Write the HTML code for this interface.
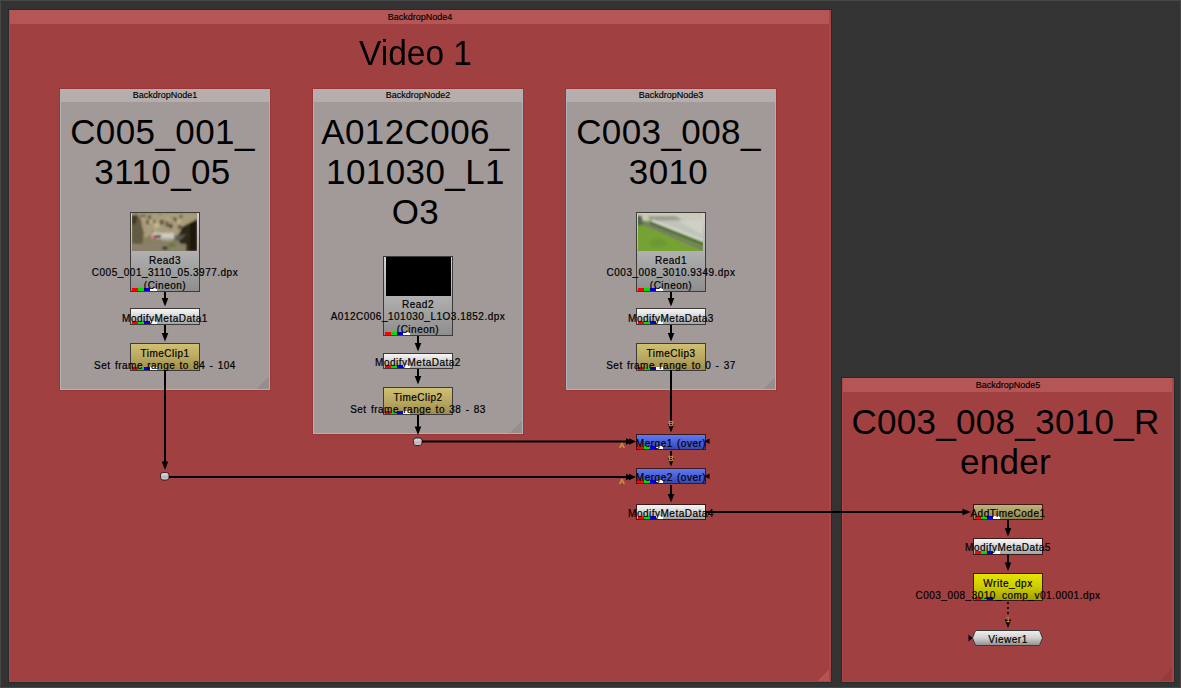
<!DOCTYPE html>
<html><head><meta charset="utf-8"><style>
html,body{margin:0;padding:0;}
body{width:1181px;height:688px;overflow:hidden;background:#333333;position:relative;font-family:"Liberation Sans",sans-serif;}
.frame{position:absolute;left:0;top:0;width:1181px;height:688px;box-sizing:border-box;border:1px solid #474747;}
.bd{position:absolute;box-sizing:border-box;}
.bd .tb{position:absolute;left:0;top:0;right:0;height:14px;font-size:9px;line-height:14px;text-align:center;color:#000;-webkit-text-stroke:0.15px #000;}
.bd .big{position:absolute;left:-5px;right:0;text-align:center;font-size:35px;line-height:40px;color:#000;}
.red{background:#a14041;box-shadow:0 0 0 1px #242c2c;}
.red .tb{background:#b55656;}
.red::after{content:'';position:absolute;left:0;top:0;right:0;bottom:0;box-shadow:inset 1px 0 0 #ad4646, inset -2px 0 0 #aa4545, inset 0 -1px 0 #aa4545;pointer-events:none;}
.gray{background:#a19a99;box-shadow:0 0 0 1px #9c3636, inset 0 0 0 1px #aab6b6;}
.gray .tb{height:13px;line-height:13px;background:#b5aeac;box-shadow:inset 1px 1px 0 #aab6b6, inset -1px 0 0 #aab6b6;}
svg{position:absolute;left:0;top:0;}
.cn{position:absolute;right:1px;bottom:1px;width:13px;height:13px;}
.bars3{position:absolute;left:1px;bottom:0;height:3px;width:18px;background:linear-gradient(90deg,#f00 0 6px,#0d0 6px 12px,#00e 12px 18px);}
.nd{position:absolute;box-sizing:border-box;border:1px solid rgba(0,0,0,0.62);background-clip:padding-box !important;}
.bars{position:absolute;left:1px;bottom:0;height:3px;width:25px;background:linear-gradient(90deg,#f00 0 6px,#0d0 6px 12px,#00e 12px 18px,#fff 18px 25px);}
.lbl{position:absolute;width:240px;text-align:center;font-size:10px;letter-spacing:0.5px;word-spacing:1px;line-height:12.3px;color:#000;white-space:nowrap;-webkit-text-stroke:0.2px #000;}
</style></head><body>
<div class="frame"></div>
<div class="bd red" style="left:9px;top:10px;width:822px;height:672px;"><div class="tb">BackdropNode4</div><div class="big" style="top:22.5px;left:-9px;font-size:33.5px;transform:scaleY(1.045);transform-origin:50% 30%;">Video 1</div><div class="cn" style="background:linear-gradient(135deg,rgba(0,0,0,0) 50%,#b85252 50%);"></div></div>
<div class="bd red" style="left:842px;top:378px;width:332px;height:304px;"><div class="tb">BackdropNode5</div><div class="big" style="top:24px;letter-spacing:0.3px;">C003_008_3010_R<br>ender</div><div class="cn" style="background:linear-gradient(135deg,rgba(0,0,0,0) 50%,#963a3a 50%);"></div></div>
<div class="bd gray" style="left:60px;top:89px;width:210px;height:301px;"><div class="tb">BackdropNode1</div><div class="big" style="top:23px;letter-spacing:0.4px;">C005_001_<br>3110_05</div><div class="cn" style="right:1px;bottom:1px;width:12px;height:12px;background:linear-gradient(135deg,rgba(0,0,0,0) 50%,#958e8d 50%);"></div></div>
<div class="bd gray" style="left:313px;top:89px;width:210px;height:345px;"><div class="tb">BackdropNode2</div><div class="big" style="top:23px;letter-spacing:0.4px;">A012C006_<br>101030_L1<br>O3</div><div class="cn" style="right:1px;bottom:1px;width:12px;height:12px;background:linear-gradient(135deg,rgba(0,0,0,0) 50%,#958e8d 50%);"></div></div>
<div class="bd gray" style="left:566px;top:89px;width:210px;height:301px;"><div class="tb">BackdropNode3</div><div class="big" style="top:23px;letter-spacing:0.4px;">C003_008_<br>3010</div><div class="cn" style="right:1px;bottom:1px;width:12px;height:12px;background:linear-gradient(135deg,rgba(0,0,0,0) 50%,#958e8d 50%);"></div></div>
<svg width="1181" height="688"><line x1="165" y1="292" x2="165" y2="300" stroke="#000" stroke-width="2"/><path d="M161.7 298.0 L168.3 298.0 L165 306.5 Z" fill="#000"/><line x1="165" y1="325" x2="165" y2="335" stroke="#000" stroke-width="2"/><path d="M161.7 333.0 L168.3 333.0 L165 341.5 Z" fill="#000"/><line x1="165" y1="370" x2="165" y2="462" stroke="#000" stroke-width="2"/><path d="M161.7 461.5 L168.3 461.5 L165 470 Z" fill="#000"/><line x1="418" y1="336" x2="418" y2="344" stroke="#000" stroke-width="2"/><path d="M414.7 343.0 L421.3 343.0 L418 351.5 Z" fill="#000"/><line x1="418" y1="369" x2="418" y2="379" stroke="#000" stroke-width="2"/><path d="M414.7 376.0 L421.3 376.0 L418 384.5 Z" fill="#000"/><line x1="418" y1="415" x2="418" y2="428" stroke="#000" stroke-width="2"/><path d="M414.7 426.5 L421.3 426.5 L418 435 Z" fill="#000"/><line x1="671" y1="292" x2="671" y2="300" stroke="#000" stroke-width="2"/><path d="M667.7 298.0 L674.3 298.0 L671 306.5 Z" fill="#000"/><line x1="671" y1="325" x2="671" y2="335" stroke="#000" stroke-width="2"/><path d="M667.7 333.0 L674.3 333.0 L671 341.5 Z" fill="#000"/><line x1="671" y1="370" x2="671" y2="428" stroke="#000" stroke-width="2"/><path d="M667.7 424.0 L674.3 424.0 L671 432.5 Z" fill="#000"/><line x1="671" y1="451" x2="671" y2="460" stroke="#000" stroke-width="2"/><path d="M667.7 458.0 L674.3 458.0 L671 466.5 Z" fill="#000"/><line x1="671" y1="485" x2="671" y2="495" stroke="#000" stroke-width="2"/><path d="M667.7 494.0 L674.3 494.0 L671 502.5 Z" fill="#000"/><line x1="418" y1="441.5" x2="626" y2="441.5" stroke="#000" stroke-width="2"/><path d="M626 438.2 L626 444.8 L633 441.5 Z" fill="#000"/><path d="M629 438.2 L629 444.8 L636 441.5 Z" fill="#000"/><line x1="165" y1="477" x2="626" y2="477" stroke="#000" stroke-width="2"/><path d="M626 473.7 L626 480.3 L633 477 Z" fill="#000"/><path d="M629 473.7 L629 480.3 L636 477 Z" fill="#000"/><line x1="706" y1="512" x2="965" y2="512" stroke="#000" stroke-width="2"/><path d="M962.5 508.7 L962.5 515.3 L971 512 Z" fill="#000"/><line x1="1008" y1="520" x2="1008" y2="530" stroke="#000" stroke-width="2"/><path d="M1004.7 528.0 L1011.3 528.0 L1008 536.5 Z" fill="#000"/><line x1="1008" y1="555" x2="1008" y2="563" stroke="#000" stroke-width="2"/><path d="M1004.7 562.5 L1011.3 562.5 L1008 571 Z" fill="#000"/><line x1="1008" y1="602" x2="1008" y2="620" stroke="#000" stroke-width="1.6" stroke-dasharray="2 3"/><path d="M1004.7 619.5 L1011.3 619.5 L1008 628 Z" fill="#000"/><path d="M968.5 634.5 L968.5 641.5 L972.5 638 Z" fill="#000"/><path d="M709.5 438.5 L709.5 444 L704.5 441.3 Z" fill="#000"/><path d="M709.5 473.5 L709.5 479 L704.5 476.3 Z" fill="#000"/><defs><linearGradient id="dg" x1="0" y1="0" x2="0" y2="1"><stop offset="0" stop-color="#d4dcdc"/><stop offset="0.45" stop-color="#c4c8c8"/><stop offset="0.55" stop-color="#b4b4b4"/><stop offset="1" stop-color="#c8d0d0"/></linearGradient></defs><rect x="160.5" y="472.5" width="8.5" height="7.5" rx="2.6" fill="url(#dg)" stroke="rgba(20,0,0,0.75)" stroke-width="1"/><rect x="413.5" y="438" width="8.5" height="7.5" rx="2.6" fill="url(#dg)" stroke="rgba(20,0,0,0.75)" stroke-width="1"/><text x="671" y="426" font-family="Liberation Sans" font-size="8" fill="#f0c070" stroke="#c07838" stroke-width="0.3" text-anchor="middle">B</text><text x="671" y="461" font-family="Liberation Sans" font-size="8" fill="#f0c070" stroke="#c07838" stroke-width="0.3" text-anchor="middle">B</text><text x="622" y="448" font-family="Liberation Sans" font-size="8" fill="#f0c070" stroke="#c07838" stroke-width="0.3" text-anchor="middle">A</text><text x="622" y="484" font-family="Liberation Sans" font-size="8" fill="#f0c070" stroke="#c07838" stroke-width="0.3" text-anchor="middle">A</text><text x="1008" y="621.5" font-family="Liberation Sans" font-size="8" fill="#f0c070" stroke="#c07838" stroke-width="0.3" text-anchor="middle">1</text></svg>
<div class="nd" style="left:130px;top:212px;width:70px;height:80px;background:linear-gradient(#d2d2d2,#8e8e8e);"><svg style="position:absolute;left:1px;top:0;" width="65" height="38" viewBox="0 0 65 38"><defs><filter id="bl1" x="-10%" y="-10%" width="120%" height="120%"><feGaussianBlur stdDeviation="0.85"/></filter></defs><rect width="65" height="38" fill="#8a7e60"/><g filter="url(#bl1)"><polygon points="0,0 65,0 65,10 52,16 44,22 36,24 20,22 8,26 0,24" fill="#a89c7a"/><ellipse cx="17.5" cy="4.2" rx="1.7" ry="2.2" fill="#5e5440"/><ellipse cx="41.4" cy="3.0" rx="1.6" ry="2.1" fill="#b8ac88"/><ellipse cx="12.3" cy="2.8" rx="1.4" ry="1.8" fill="#6a5f46"/><ellipse cx="6.4" cy="9.9" rx="2.0" ry="2.5" fill="#5e5440"/><ellipse cx="47.5" cy="14.2" rx="1.6" ry="2.1" fill="#5e5440"/><ellipse cx="29.7" cy="9.3" rx="2.2" ry="2.8" fill="#5e5440"/><ellipse cx="28.7" cy="3.8" rx="1.4" ry="1.8" fill="#b8ac88"/><ellipse cx="7.7" cy="7.5" rx="1.9" ry="2.5" fill="#6a5f46"/><ellipse cx="6.9" cy="13.0" rx="1.1" ry="1.4" fill="#5e5440"/><ellipse cx="28.3" cy="2.3" rx="0.9" ry="1.1" fill="#6a5f46"/><ellipse cx="25.8" cy="12.2" rx="1.9" ry="2.5" fill="#c4b892"/><ellipse cx="30.1" cy="10.5" rx="1.2" ry="1.6" fill="#6a5f46"/><ellipse cx="35.6" cy="6.1" rx="1.6" ry="2.1" fill="#b8ac88"/><ellipse cx="25.8" cy="8.2" rx="1.4" ry="1.9" fill="#b8ac88"/><ellipse cx="49.0" cy="3.5" rx="1.4" ry="1.8" fill="#4e4634"/><ellipse cx="9.3" cy="11.3" rx="0.9" ry="1.1" fill="#5e5440"/><ellipse cx="38.7" cy="13.0" rx="2.0" ry="2.6" fill="#4e4634"/><ellipse cx="18.3" cy="8.4" rx="1.5" ry="1.9" fill="#c4b892"/><ellipse cx="5.3" cy="3.0" rx="1.2" ry="1.5" fill="#5e5440"/><ellipse cx="4.9" cy="15.7" rx="1.7" ry="2.2" fill="#c4b892"/><ellipse cx="15.7" cy="9.1" rx="1.7" ry="2.3" fill="#5e5440"/><ellipse cx="47.2" cy="8.5" rx="1.7" ry="2.2" fill="#c4b892"/><ellipse cx="4.8" cy="17.1" rx="1.0" ry="1.3" fill="#6a5f46"/><ellipse cx="21.1" cy="20.3" rx="1.5" ry="1.9" fill="#6a5f46"/><ellipse cx="23.6" cy="12.5" rx="2.0" ry="2.6" fill="#c4b892"/><ellipse cx="43.5" cy="6.8" rx="1.4" ry="1.8" fill="#4e4634"/><ellipse cx="34.8" cy="9.0" rx="1.1" ry="1.5" fill="#5e5440"/><ellipse cx="10.5" cy="5.9" rx="1.1" ry="1.5" fill="#c4b892"/><ellipse cx="41.9" cy="4.8" rx="1.2" ry="1.6" fill="#6a5f46"/><ellipse cx="22.1" cy="8.8" rx="1.6" ry="2.1" fill="#6a5f46"/><ellipse cx="35.1" cy="11.8" rx="1.7" ry="2.2" fill="#5e5440"/><ellipse cx="23.9" cy="19.3" rx="2.1" ry="2.8" fill="#b8ac88"/><ellipse cx="20.8" cy="9.4" rx="0.9" ry="1.2" fill="#c4b892"/><ellipse cx="5.0" cy="2.4" rx="1.1" ry="1.4" fill="#6a5f46"/><ellipse cx="7.3" cy="13.6" rx="0.9" ry="1.2" fill="#b8ac88"/><ellipse cx="9.3" cy="3.1" rx="1.3" ry="1.7" fill="#5e5440"/><ellipse cx="5.4" cy="5.4" rx="1.3" ry="1.7" fill="#4e4634"/><ellipse cx="47.9" cy="13.6" rx="1.5" ry="1.9" fill="#5e5440"/><polygon points="0,8 8,6 12,20 10,32 0,30" fill="#625a42"/><polygon points="0,2 5,2 4,10 0,12" fill="#3a3424"/><polygon points="50,14 65,6 65,38 54,38 48,30 46,24" fill="#2e2616"/><polygon points="58,10 65,8 65,38 58,38" fill="#1e180e"/><rect x="0" y="31" width="54" height="7" fill="#8a806a"/><rect x="20" y="20" width="22" height="6" fill="#cfcac0"/><rect x="21" y="22" width="3" height="4" fill="#b83a44"/><rect x="24" y="22" width="5" height="3" fill="#303848"/><rect x="30" y="25" width="10" height="3" fill="#a8a49a"/><polygon points="42,24 54,21 50,26 44,28" fill="#5a5a58"/><ellipse cx="40" cy="32" rx="4" ry="2.5" fill="#6a7a3a"/><ellipse cx="33" cy="35" rx="3" ry="1.5" fill="#2a2418"/></g></svg><div class="bars"></div></div>
<div class="nd" style="left:130px;top:308px;width:70px;height:17px;background:linear-gradient(#f6f6f6 0%,#e4e4e4 30%,#c8c8c8 60%,#a0a4a4 100%);"><div class="bars"></div></div>
<div class="nd" style="left:130px;top:343px;width:70px;height:28px;background:linear-gradient(#cfc072,#b9a962 50%,#9e8e4c);"><div class="bars"></div></div>
<div class="nd" style="left:383px;top:256px;width:70px;height:80px;background:linear-gradient(#d2d2d2,#8e8e8e);"><div style="position:absolute;left:2px;top:0;width:65px;height:39px;background:#000;"></div><div class="bars"></div></div>
<div class="nd" style="left:383px;top:353px;width:70px;height:16px;background:linear-gradient(#f6f6f6 0%,#e4e4e4 30%,#c8c8c8 60%,#a0a4a4 100%);"><div class="bars"></div></div>
<div class="nd" style="left:383px;top:387px;width:70px;height:28px;background:linear-gradient(#cfc072,#b9a962 50%,#9e8e4c);"><div class="bars"></div></div>
<div class="nd" style="left:636px;top:212px;width:70px;height:80px;background:linear-gradient(#d2d2d2,#8e8e8e);"><svg style="position:absolute;left:1px;top:0;" width="65" height="38" viewBox="0 0 65 38"><defs><filter id="bl2" x="-10%" y="-10%" width="120%" height="120%"><feGaussianBlur stdDeviation="0.9"/></filter></defs><rect width="65" height="38" fill="#c0c4ba"/><g filter="url(#bl2)"><rect x="-2" y="-2" width="69" height="8" fill="#cccab6"/><polygon points="10,3 38,3 44,7 12,8" fill="#9e9e8e"/><polygon points="40,8 65,6 65,22" fill="#cfd0c6"/><polygon points="-2,8 12,8 66,29 66,40 -2,40" fill="#74a232"/><line x1="12" y1="9.5" x2="66" y2="31.5" stroke="#44622a" stroke-width="2.6"/><line x1="14" y1="7.5" x2="66" y2="28" stroke="#dcdcd2" stroke-width="2.2"/><line x1="4" y1="9.5" x2="66" y2="36.5" stroke="#77756e" stroke-width="2.6"/><polygon points="-2,2 4,3 5,12 -2,13" fill="#56664a"/><ellipse cx="20" cy="30" rx="8" ry="4" fill="#6a9830"/></g></svg><div class="bars"></div></div>
<div class="nd" style="left:636px;top:308px;width:70px;height:17px;background:linear-gradient(#f6f6f6 0%,#e4e4e4 30%,#c8c8c8 60%,#a0a4a4 100%);"><div class="bars"></div></div>
<div class="nd" style="left:636px;top:343px;width:70px;height:28px;background:linear-gradient(#cfc072,#b9a962 50%,#9e8e4c);"><div class="bars"></div></div>
<div class="nd" style="left:636px;top:434px;width:70px;height:16px;background:linear-gradient(#6078f4,#4a60d8 50%,#3a48b0);"><div class="bars"></div></div>
<div class="nd" style="left:636px;top:468px;width:70px;height:16px;background:linear-gradient(#6078f4,#4a60d8 50%,#3a48b0);"><div class="bars"></div></div>
<div class="nd" style="left:636px;top:504px;width:70px;height:16px;background:linear-gradient(#f6f6f6 0%,#e4e4e4 30%,#c8c8c8 60%,#a0a4a4 100%);"><div class="bars"></div></div>
<div class="nd" style="left:973px;top:504px;width:70px;height:16px;background:linear-gradient(#c0b47a,#8e844e);"><div class="bars"></div></div>
<div class="nd" style="left:973px;top:538px;width:70px;height:17px;background:linear-gradient(#f6f6f6 0%,#e4e4e4 30%,#c8c8c8 60%,#a0a4a4 100%);"><div class="bars"></div></div>
<div class="nd" style="left:973px;top:573px;width:70px;height:28px;background:linear-gradient(#e4e400,#cccc00 50%,#a2a200);"><div class="bars3"></div></div>
<svg width="1181" height="688"><defs><linearGradient id="vg" x1="0" y1="0" x2="0" y2="1"><stop offset="0" stop-color="#f0f0f0"/><stop offset="0.5" stop-color="#d0d0d0"/><stop offset="1" stop-color="#8e8e8e"/></linearGradient></defs><path d="M975.5 630.5 L1039.5 630.5 L1042.5 638 L1039.5 645.5 L975.5 645.5 L972.5 638 Z" fill="url(#vg)" stroke="#3a3a3a" stroke-width="1"/></svg>
<div class="lbl" style="left:45px;top:255.0px;">Read3<br>C005_001_3110_05.3977.dpx<br>(Cineon)</div>
<div class="lbl" style="left:45px;top:312.5px;">ModifyMetaData1</div>
<div class="lbl" style="left:45px;top:347.5px;">TimeClip1<br>Set frame range to 84 - 104</div>
<div class="lbl" style="left:298px;top:299.0px;">Read2<br>A012C006_101030_L1O3.1852.dpx<br>(Cineon)</div>
<div class="lbl" style="left:298px;top:356.5px;">ModifyMetaData2</div>
<div class="lbl" style="left:298px;top:391.5px;">TimeClip2<br>Set frame range to 38 - 83</div>
<div class="lbl" style="left:551px;top:255.0px;">Read1<br>C003_008_3010.9349.dpx<br>(Cineon)</div>
<div class="lbl" style="left:551px;top:312.5px;">ModifyMetaData3</div>
<div class="lbl" style="left:551px;top:347.5px;">TimeClip3<br>Set frame range to 0 - 37</div>
<div class="lbl" style="left:551px;top:437.5px;">Merge1 (over)</div>
<div class="lbl" style="left:551px;top:471.5px;">Merge2 (over)</div>
<div class="lbl" style="left:551px;top:507.5px;">ModifyMetaData4</div>
<div class="lbl" style="left:888px;top:507.5px;">AddTimeCode1</div>
<div class="lbl" style="left:888px;top:541.5px;">ModifyMetaData5</div>
<div class="lbl" style="left:888px;top:577.5px;">Write_dpx<br>C003_008_3010_comp_v01.0001.dpx</div>
<div class="lbl" style="left:888px;top:633.5px;">Viewer1</div>
</body></html>
